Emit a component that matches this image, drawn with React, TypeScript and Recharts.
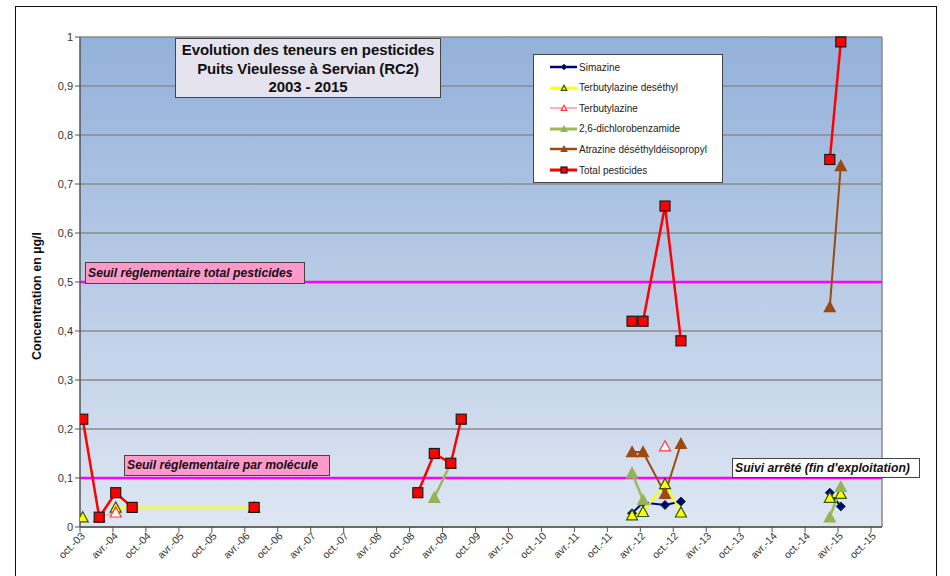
import React from "react";
import { LineChart, Line, XAxis, YAxis, CartesianGrid, ReferenceLine } from "recharts";

// x values are months counted from October 2003
const xTickLabels = [
  "oct.-03", "avr.-04", "oct.-04", "avr.-05", "oct.-05", "avr.-06", "oct.-06",
  "avr.-07", "oct.-07", "avr.-08", "oct.-08", "avr.-09", "oct.-09", "avr.-10",
  "oct.-10", "avr.-11", "oct.-11", "avr.-12", "oct.-12", "avr.-13", "oct.-13",
  "avr.-14", "oct.-14", "avr.-15", "oct.-15",
];
const yTicks = [0, 0.1, 0.2, 0.3, 0.4, 0.5, 0.6, 0.7, 0.8, 0.9, 1];

// null = break in the line (no sample that month)
const simazineMonths = [100.5, 102.5, 106.5, 109.4, 123, 136.5, 138.5];
const simazineValues = [0.028, 0.05, 0.045, 0.052, null, 0.07, 0.042];

const terbuDesMonths = [0.5, 3.5, 6.5, 31.7, 50, 100.5, 102.5, 106.5, 109.4, 123, 136.5, 138.5];
const terbuDesValues = [0.02, null, 0.04, 0.04, null, 0.024, 0.031, 0.088, 0.03, null, 0.06, 0.068];

const terbuMonths = [3.5, 6.5, 50, 106.5];
const terbuValues = [0.02, 0.03, null, 0.165];

const dcbMonths = [64.5, 67.5, 85, 100.5, 102.5, 123, 136.5, 138.5];
const dcbValues = [0.06, 0.13, null, 0.11, 0.055, null, 0.02, 0.082];

const deiaMonths = [100.5, 102.5, 106.5, 109.4, 123, 136.5, 138.5];
const deiaValues = [0.153, 0.153, 0.068, 0.17, null, 0.449, 0.737];

const totalMonths = [0.5, 3.5, 6.5, 9.5, 20, 31.7, 45, 61.5, 64.5, 67.5, 69.4, 85, 100.5, 102.5, 106.5, 109.4, 123, 136.5, 138.5];
const totalValues = [0.22, 0.02, 0.07, 0.04, null, 0.04, null, 0.07, 0.15, 0.13, 0.22, null, 0.42, 0.42, 0.655, 0.38, null, 0.75, 0.99];

const SEUIL_TOTAL = 0.5;
const SEUIL_MOLECULE = 0.1;

const FONT = '"Liberation Sans", Arial, sans-serif';

type Shape = "diamond" | "triangle" | "square";

type Series = {
  name: string;
  months: number[];
  values: (number | null)[];
  color: string;
  width: number;
  shape: Shape;
  fill: string;
  stroke: string;
};

const SERIES: Series[] = [
  { name: "Simazine", months: simazineMonths, values: simazineValues, color: "#000080", width: 2, shape: "diamond", fill: "#00007a", stroke: "#0a3a18" },
  { name: "Terbutylazine deséthyl", months: terbuDesMonths, values: terbuDesValues, color: "#ffff00", width: 2, shape: "triangle", fill: "#ffff00", stroke: "#2e5a00" },
  { name: "Terbutylazine", months: terbuMonths, values: terbuValues, color: "#ff9999", width: 1, shape: "triangle", fill: "#ffffff", stroke: "#ff3b3b" },
  { name: "2,6-dichlorobenzamide", months: dcbMonths, values: dcbValues, color: "#9bbb59", width: 2.5, shape: "triangle", fill: "#94b456", stroke: "#94b456" },
  { name: "Atrazine déséthyldéisopropyl", months: deiaMonths, values: deiaValues, color: "#9c4a12", width: 2, shape: "triangle", fill: "#9c4a12", stroke: "#9c4a12" },
  { name: "Total pesticides", months: totalMonths, values: totalValues, color: "#ff0000", width: 2.5, shape: "square", fill: "#ff0000", stroke: "#1a1a1a" },
];

const toPoints = (ms: number[], vs: (number | null)[]) => ms.map((m, i) => ({ m, v: vs[i] }));

function Marker({ shape, cx, cy, fill, stroke, s }: { shape: Shape; cx: number; cy: number; fill: string; stroke: string; s: number }) {
  if (shape === "square") {
    return <rect x={cx - s} y={cy - s} width={s * 2} height={s * 2} fill={fill} stroke={stroke} strokeWidth={1.2} />;
  }
  if (shape === "diamond") {
    return <polygon points={`${cx},${cy - s} ${cx + s},${cy} ${cx},${cy + s} ${cx - s},${cy}`} fill={fill} stroke={stroke} strokeWidth={1} />;
  }
  return (
    <polygon
      points={`${cx},${cy - s} ${cx + s},${cy + s * 0.85} ${cx - s},${cy + s * 0.85}`}
      fill={fill}
      stroke={stroke}
      strokeWidth={1.2}
    />
  );
}

function makeDot(sr: Series) {
  const size = sr.shape === "square" ? 5 : sr.shape === "diamond" ? 4.5 : 5.5;
  return (props: any) => {
    const { cx, cy, index, value } = props;
    if (cx == null || cy == null || value == null || (Array.isArray(value) && value[1] == null)) {
      return <g key={`d-${index}`} />;
    }
    return (
      <g key={`d-${index}`}>
        <Marker shape={sr.shape} cx={cx} cy={cy} fill={sr.fill} stroke={sr.stroke} s={size} />
      </g>
    );
  };
}

function XTick({ x, y, payload }: any) {
  const label = xTickLabels[Math.round(payload.value / 6)];
  return (
    <text
      x={x + 3}
      y={y}
      dy="0.35em"
      transform={`rotate(-45 ${x + 3} ${y})`}
      textAnchor="end"
      fontSize={10.5}
      fill="#333"
      fontFamily={FONT}
    >
      {label}
    </text>
  );
}

function YTitle({ viewBox }: any) {
  const x = viewBox.x + 41;
  const y = viewBox.y + viewBox.height / 2 + 14;
  return (
    <text x={x} y={y} transform={`rotate(-90 ${x} ${y})`} textAnchor="middle" fontSize={12.5} fontWeight="bold" fill="#111" fontFamily={FONT}>
      Concentration  en µg/l
    </text>
  );
}

const boxText: React.CSSProperties = {
  position: "absolute",
  boxSizing: "border-box",
  whiteSpace: "nowrap",
  fontFamily: FONT,
  color: "#111",
};

function Legend() {
  return (
    <div
      style={{
        position: "absolute",
        left: 533,
        top: 54,
        width: 190,
        height: 129,
        background: "#fff",
        border: "1px solid #444",
        boxSizing: "border-box",
        fontFamily: FONT,
        fontSize: 10,
        color: "#222",
      }}
    >
      {SERIES.map((sr, i) => (
        <div key={sr.name} style={{ position: "absolute", left: 16, top: 4 + i * 20.6, height: 16, display: "flex", alignItems: "center" }}>
          <svg width={28} height={14} style={{ marginRight: 1 }}>
            <line x1={0} y1={7} x2={27} y2={7} stroke={sr.color} strokeWidth={sr.width + 0.5} />
            <Marker shape={sr.shape} cx={14} cy={7} fill={sr.fill} stroke={sr.stroke} s={sr.shape === "square" ? 3 : 2.8} />
          </svg>
          <span>{sr.name}</span>
        </div>
      ))}
    </div>
  );
}

export default function App() {
  const xTicks = xTickLabels.map((_, i) => i * 6);
  return (
    <div style={{ position: "absolute", left: 0, top: 0, width: 950, height: 576, background: "#fff", overflow: "hidden" }}>
      <svg width={0} height={0} style={{ position: "absolute" }}>
        <defs>
          <linearGradient id="plotBg" x1="0" y1="0" x2="0" y2="1">
            <stop offset="0%" stopColor="#93b1da" />
            <stop offset="100%" stopColor="#dee6f2" />
          </linearGradient>
        </defs>
      </svg>

      {/* outer frame */}
      <div style={{ position: "absolute", left: 15, top: 6, width: 922, height: 575, border: "1.5px solid #111", boxSizing: "border-box" }} />

      <div style={{ position: "absolute", left: 0, top: 0 }}>
        <LineChart width={950} height={576} margin={{ top: 37, right: 68, bottom: 0, left: 0 }} style={{ fontFamily: FONT }}>
          <CartesianGrid vertical={false} stroke="#8a8a8a" strokeWidth={1.5} fill="url(#plotBg)" fillOpacity={1} />
          <XAxis
            type="number"
            dataKey="m"
            domain={[0, 146]}
            ticks={xTicks}
            interval={0}
            height={49}
            tick={<XTick />}
            tickSize={5}
            axisLine={{ stroke: "#555", strokeWidth: 1.5 }}
            tickLine={{ stroke: "#555" }}
            allowDataOverflow
          />
          <YAxis
            type="number"
            domain={[0, 1]}
            ticks={yTicks}
            interval={0}
            width={80}
            tickSize={5}
            tick={{ fontSize: 11, fill: "#333", fontFamily: FONT }}
            tickFormatter={(v: number) => (v === 0 || v === 1 ? String(v) : v.toFixed(1).replace(".", ","))}
            axisLine={{ stroke: "#555", strokeWidth: 1.5 }}
            tickLine={{ stroke: "#555" }}
            label={<YTitle />}
          />
          <ReferenceLine x={146} stroke="#8a8a8a" strokeWidth={1.5} />
          <ReferenceLine y={SEUIL_TOTAL} stroke="#ff00ff" strokeWidth={2.5} />
          <ReferenceLine y={SEUIL_MOLECULE} stroke="#ff00ff" strokeWidth={2.5} />
          {SERIES.map((sr) => (
            <Line
              key={sr.name}
              data={toPoints(sr.months, sr.values)}
              dataKey="v"
              name={sr.name}
              type="linear"
              stroke={sr.color}
              strokeWidth={sr.width}
              dot={makeDot(sr)}
              activeDot={false}
              connectNulls={false}
              isAnimationActive={false}
            />
          ))}
        </LineChart>
      </div>

      {/* title */}
      <div
        style={{
          ...boxText,
          left: 175,
          top: 38,
          width: 266,
          height: 60,
          background: "#e5e3ed",
          border: "1px solid #444",
          fontSize: 15,
          fontWeight: "bold",
          textAlign: "center",
          lineHeight: "18.5px",
          paddingTop: 2,
          letterSpacing: -0.1,
        }}
      >
        <div>Evolution des teneurs en pesticides</div>
        <div>Puits Vieulesse à Servian (RC2)</div>
        <div>2003 - 2015</div>
      </div>

      <Legend />

      {/* threshold labels */}
      <div
        style={{
          ...boxText,
          left: 85,
          top: 262,
          width: 220,
          height: 22,
          background: "#ff99cc",
          border: "1px solid #444",
          fontSize: 12.2,
          fontWeight: "bold",
          fontStyle: "italic",
          lineHeight: "20px",
          paddingLeft: 2,
        }}
      >
        Seuil réglementaire total pesticides
      </div>
      <div
        style={{
          ...boxText,
          left: 124,
          top: 455,
          width: 206,
          height: 21,
          background: "#ff99cc",
          border: "1px solid #444",
          fontSize: 12.2,
          fontWeight: "bold",
          fontStyle: "italic",
          lineHeight: "19px",
          paddingLeft: 2,
        }}
      >
        Seuil réglementaire par molécule
      </div>
      <div
        style={{
          ...boxText,
          left: 732,
          top: 458,
          width: 188,
          height: 20,
          background: "#fff",
          border: "1px solid #444",
          fontSize: 12.2,
          fontWeight: "bold",
          fontStyle: "italic",
          lineHeight: "18px",
          paddingLeft: 2,
        }}
      >
        Suivi arrêté (fin d'exploitation)
      </div>
    </div>
  );
}
